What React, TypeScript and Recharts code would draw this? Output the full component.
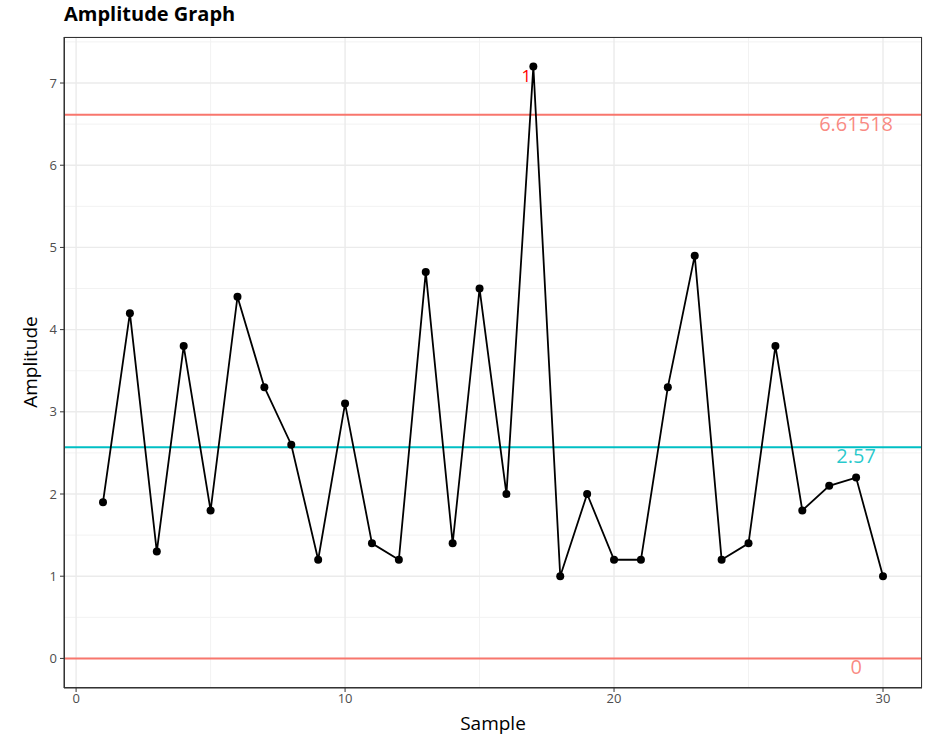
import React from "react";
import {
  ComposedChart,
  Line,
  XAxis,
  YAxis,
  CartesianGrid,
  ReferenceLine,
  ReferenceDot,
} from "recharts";

const samples = [
  1, 2, 3, 4, 5, 6, 7, 8, 9, 10, 11, 12, 13, 14, 15, 16, 17, 18, 19, 20, 21,
  22, 23, 24, 25, 26, 27, 28, 29, 30,
];
const amplitudes = [
  1.9, 4.2, 1.3, 3.8, 1.8, 4.4, 3.3, 2.6, 1.2, 3.1, 1.4, 1.2, 4.7, 1.4, 4.5,
  2.0, 7.2, 1.0, 2.0, 1.2, 1.2, 3.3, 4.9, 1.2, 1.4, 3.8, 1.8, 2.1, 2.2, 1.0,
];
const xTicks = [0, 10, 20, 30];
const xMinor = [5, 15, 25];
const yTicks = [0, 1, 2, 3, 4, 5, 6, 7];
const yMinor = [0.5, 1.5, 2.5, 3.5, 4.5, 5.5, 6.5, 7.5];

const ucl = 6.61518;
const center = 2.57;
const lcl = 0;
const limitLabelX = 29;
const violations = [{ x: 17, y: 7.2, label: "1" }];

const data = samples.map((s, i) => ({ x: s, y: amplitudes[i] }));

const FONT = "'Open Sans', 'Noto Sans', sans-serif";
const RED = "#F8766D";
const CYAN = "#00BFC4";

function limitText(text: string, color: string) {
  return (props: any) => (
    <text
      x={props.cx}
      y={props.cy + 16}
      textAnchor="middle"
      fill={color}
      fillOpacity={0.85}
      fontSize={20}
      fontFamily={FONT}
    >
      {text}
    </text>
  );
}

export default function App() {
  return (
    <div
      style={{
        position: "absolute",
        left: 0,
        top: 0,
        width: 944,
        height: 741,
        background: "#fff",
        fontFamily: FONT,
      }}
    >
      <div
        style={{
          position: "absolute",
          left: 64,
          top: 0,
          fontSize: 20,
          fontWeight: 700,
          lineHeight: "28px",
          color: "#000",
        }}
      >
        Amplitude Graph
      </div>
      <ComposedChart
        width={944}
        height={741}
        data={data}
        margin={{ top: 37, right: 22, bottom: 23, left: 20 }}
      >
        <CartesianGrid
          stroke="#F2F2F2"
          strokeWidth={1}
          horizontalValues={yMinor}
          verticalValues={xMinor}
        />
        <CartesianGrid stroke="#EBEBEB" strokeWidth={1.4} />
        <XAxis
          dataKey="x"
          type="number"
          domain={[-0.45, 31.45]}
          ticks={xTicks}
          allowDataOverflow
          height={30}
          tickSize={4}
          tickMargin={2}
          axisLine={{ stroke: "#333333" }}
          tickLine={{ stroke: "#333333" }}
          tick={{ fontSize: 13, fill: "#4D4D4D", fontFamily: FONT }}
        />
        <YAxis
          type="number"
          domain={[-0.36, 7.56]}
          ticks={yTicks}
          allowDataOverflow
          width={44}
          tickSize={4}
          tickMargin={3}
          axisLine={{ stroke: "#333333" }}
          tickLine={{ stroke: "#333333" }}
          tick={{ fontSize: 13, fill: "#4D4D4D", fontFamily: FONT }}
        />
        <ReferenceLine y={ucl} stroke={RED} strokeWidth={2} />
        <ReferenceLine y={center} stroke={CYAN} strokeWidth={2} />
        <ReferenceLine y={lcl} stroke={RED} strokeWidth={2} />
        <Line
          dataKey="y"
          stroke="#000"
          strokeWidth={1.8}
          dot={{ r: 4, fill: "#000", stroke: "#000", strokeWidth: 0 }}
          isAnimationActive={false}
        />
        <ReferenceDot x={limitLabelX} y={ucl} r={0} shape={limitText(String(ucl), RED)} />
        <ReferenceDot x={limitLabelX} y={center} r={0} shape={limitText(String(center), CYAN)} />
        <ReferenceDot x={limitLabelX} y={lcl} r={0} shape={limitText(String(lcl), RED)} />
        {violations.map((v) => (
          <ReferenceDot
            key={v.x}
            x={v.x}
            y={v.y}
            r={0}
            shape={(p: any) => (
              <text
                x={p.cx - 2}
                y={p.cy + 15}
                textAnchor="end"
                fill="#FF0000"
                fontSize={17}
                fontFamily={FONT}
              >
                {v.label}
              </text>
            )}
          />
        ))}
      </ComposedChart>
      <div
        style={{
          position: "absolute",
          left: 64,
          top: 37,
          width: 856,
          height: 649,
          border: "1px solid #333333",
          pointerEvents: "none",
        }}
      />
      <div
        style={{
          position: "absolute",
          left: 64,
          width: 858,
          top: 710,
          textAlign: "center",
          fontSize: 19,
          lineHeight: "26px",
          color: "#000",
        }}
      >
        Sample
      </div>
      <div
        style={{
          position: "absolute",
          left: 30,
          top: 362,
          transform: "translate(-50%, -50%) rotate(-90deg)",
          fontSize: 19,
          lineHeight: "26px",
          color: "#000",
          whiteSpace: "nowrap",
        }}
      >
        Amplitude
      </div>
    </div>
  );
}
